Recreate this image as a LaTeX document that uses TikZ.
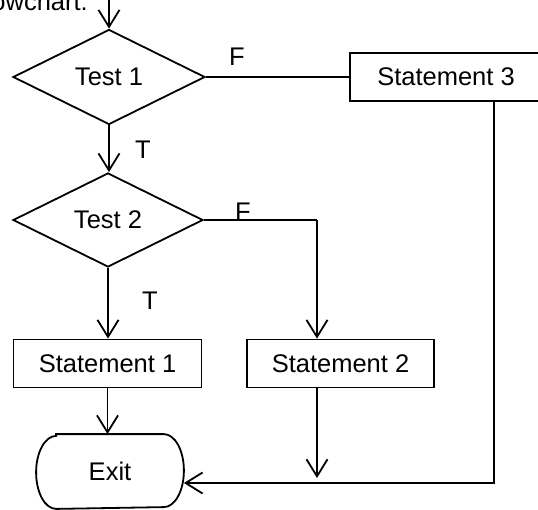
\documentclass[tikz,border=0pt]{standalone}
\usepackage{fontspec}
\setmainfont{Liberation Sans}
\usetikzlibrary{positioning,shapes.geometric,arrows.meta}

\begin{document}
\begin{tikzpicture}[x=1pt,y=1pt,yscale=-1,xscale=1,
  line width=1.8pt,
  font=\fontsize{25.5}{30}\selectfont,
  decision/.style={draw,diamond,inner sep=0pt,minimum width=192pt,minimum height=95pt},
  stmt/.style={draw,rectangle,inner sep=0pt,minimum height=48pt},
  flow/.style={-{Straight Barb[length=17pt,width=21pt,line width=1.8pt]}},
  lbl/.style={anchor=base}]
\useasboundingbox (0,0) rectangle (538,509);
\clip (0,0) rectangle (538,509);

% Text Node
\node[anchor=base west] (title) at (-34,10) {Flowchart:};

%Shapes
\coordinate (start) at (109,0);
\node[decision] (t1) at (109,77) {Test 1};
\node[stmt,minimum width=192pt] (s3) at (446,77) {Statement 3};
\node[decision,minimum width=190pt,minimum height=94pt] (t2) at (108,220) {Test 2};
\node[stmt,minimum width=188pt] (s1) at (107.5,363.5) {Statement 1};
\node[stmt,minimum width=187pt] (s2) at (340.5,363.5) {Statement 2};
\node[minimum width=146pt,minimum height=73pt,inner sep=0pt] (exit) at (110,471.5) {Exit};
\draw ([xshift=20pt]exit.north west) -- ([xshift=-20pt]exit.north east)
  arc[start angle=-90,end angle=90,x radius=20,y radius=36.5]
  -- ([xshift=20pt]exit.south west)
  arc[start angle=90,end angle=270,x radius=20,y radius=36.5] -- cycle;

\coordinate (c2) at (317,220);
\coordinate (j2) at (317,478);
\coordinate (c3) at (494,483);

%Straight Lines
\draw[flow] (start) -- (t1.north);
\draw (t1.east) -- (s3.west);
\draw[flow] (t1.south) -- (t1.south |- t2.north);
\draw (t2.east) -- (c2);
\draw[flow] (c2) -- (c2 |- s2.north);
\draw[flow] (t2.south) -- (t2.south |- s1.north);
\draw[flow] (s1.south) -- (s1.south |- exit.north);
\draw[flow] (s2.south -| c2) -- (j2);
\draw[flow] (s3.south -| c3) -- (c3) -- (exit.east |- c3);

% Text Node
\node[lbl] (f1) at (237,65) {F};
\node (tr1) at (143,150) {T};
\node[lbl] (f2) at (243,220) {F};
\node (tr2) at (150,301) {T};
\end{tikzpicture}
\end{document}
